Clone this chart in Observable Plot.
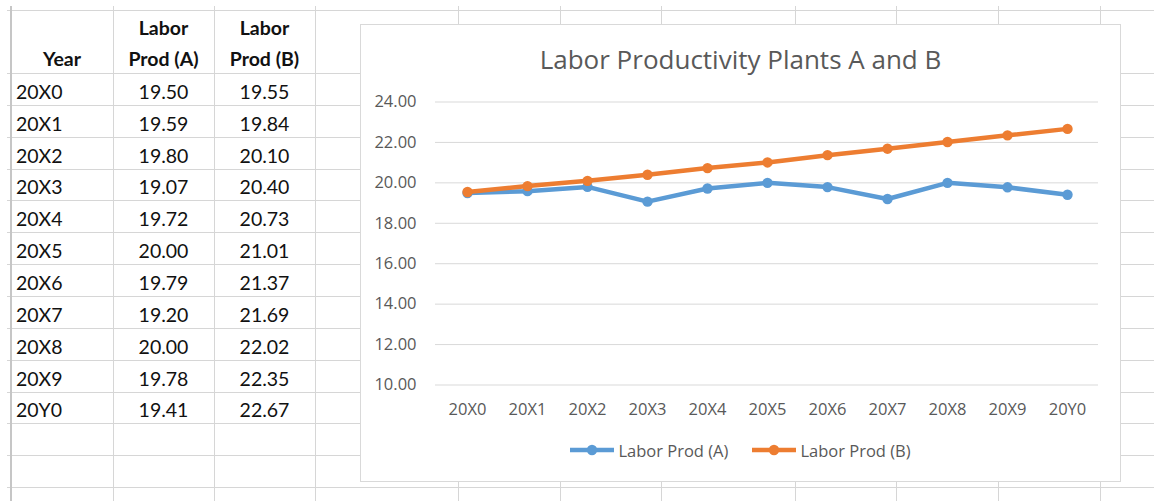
<!DOCTYPE html>
<html>
<head>
<meta charset="utf-8">
<script src="https://cdn.jsdelivr.net/npm/d3@7"></script>
<script src="https://cdn.jsdelivr.net/npm/@observablehq/plot@0.6"></script>
<style>
  html, body { margin: 0; padding: 0; background: #fff; }
  #page { position: relative; width: 1154px; height: 501px; overflow: hidden; background: #fff; }
  #sheet { position: absolute; left: 0; top: 0; }
  #chart { position: absolute; left: 360px; top: 24px; width: 759px; height: 456px;
           border: 1px solid #d9d9d9; background: #fff; }
  #title { position: absolute; left: 0; right: 0; top: 16px; text-align: center;
           font-family: "Open Sans", sans-serif; font-size: 26px; line-height: 36px; color: #595959; }
  #plot { position: absolute; left: 0; top: 0; }
  #legend { position: absolute; left: 0; right: 0; top: 413px; height: 24px; display: flex;
            justify-content: center; align-items: center; gap: 24px; font-family: "Open Sans", sans-serif;
            font-size: 16.5px; color: #595959; }
  .item { display: flex; align-items: center; }
  .item svg { display: block; margin-right: 4px; }
</style>
</head>
<body>
<div id="page">
  <svg id="sheet" width="1154" height="501"></svg>
  <div id="chart">
    <div id="title"></div>
    <div id="plot"></div>
    <div id="legend"></div>
  </div>
</div>
<script>
// ---- data ----
const years = ["20X0","20X1","20X2","20X3","20X4","20X5","20X6","20X7","20X8","20X9","20Y0"];
const prodA = [19.50,19.59,19.80,19.07,19.72,20.00,19.79,19.20,20.00,19.78,19.41];
const prodB = [19.55,19.84,20.10,20.40,20.73,21.01,21.37,21.69,22.02,22.35,22.67];
const seriesNames = ["Labor Prod (A)", "Labor Prod (B)"];
const seriesColors = ["#5B9BD5", "#ED7D31"];
const yTicks = [10, 12, 14, 16, 18, 20, 22, 24];
const chartTitle = "Labor Productivity Plants A and B";
const headerYear = "Year";
const headerA = ["Labor", "Prod (A)"];
const headerB = ["Labor", "Prod (B)"];

// ---- spreadsheet background ----
const sheet = d3.select("#sheet");
const rowH = 31.85, firstRow = 73, nRowLines = 14;
const colLines = [113, 214, 315, 458, 560, 661, 795, 896, 998, 1100];
const gridColor = "#d6d6d6";
sheet.append("line").attr("x1", 7).attr("x2", 1154).attr("y1", 10.5).attr("y2", 10.5)
  .attr("stroke", gridColor);
for (let k = 0; k < nRowLines; k++) {
  const y = Math.round(firstRow + k * rowH) + 0.5;
  sheet.append("line").attr("x1", 7).attr("x2", 1154).attr("y1", y).attr("y2", y).attr("stroke", gridColor);
}
colLines.forEach(x => sheet.append("line").attr("x1", x + 0.5).attr("x2", x + 0.5)
  .attr("y1", 6).attr("y2", 501).attr("stroke", gridColor));
sheet.append("line").attr("x1", 11).attr("x2", 11).attr("y1", 6).attr("y2", 501)
  .attr("stroke", "#c6c6c6").attr("stroke-width", 2);

// table text
const tFont = '"Lato", sans-serif', tSize = "19.5px";
const colA = 16, colB = 163.5, colC = 264.5;
function txt(x, y, s, anchor, bold) {
  sheet.append("text").attr("x", x).attr("y", y).attr("text-anchor", anchor)
    .attr("font-family", tFont).attr("font-size", tSize).attr("font-weight", bold ? "bold" : "normal")
    .attr("fill", "#111").text(s);
}
txt(62, 65.7, headerYear, "middle", true);
txt(colB, 35, headerA[0], "middle", true);
txt(colB, 65.7, headerA[1], "middle", true);
txt(colC, 35, headerB[0], "middle", true);
txt(colC, 65.7, headerB[1], "middle", true);
const fmt = d3.format(".2f");
years.forEach((yr, i) => {
  const base = firstRow + (i + 1) * rowH - 6;
  txt(colA, base, yr, "start", false);
  txt(colB, base, fmt(prodA[i]), "middle", false);
  txt(colC, base, fmt(prodB[i]), "middle", false);
});

// ---- chart ----
document.getElementById("title").textContent = chartTitle;
const rowsA = years.map((y, i) => ({year: y, value: prodA[i], series: seriesNames[0]}));
const rowsB = years.map((y, i) => ({year: y, value: prodB[i], series: seriesNames[1]}));

const plot = Plot.plot({
  width: 759, height: 410,
  marginLeft: 74, marginRight: 22, marginTop: 76.5, marginBottom: 50.5,
  style: {fontFamily: '"Open Sans", sans-serif', fontSize: "16.5px", color: "#595959", background: "transparent", overflow: "visible"},
  x: {type: "point", domain: years, padding: 0.5, label: null},
  y: {domain: [10, 24], label: null},
  color: {domain: seriesNames, range: seriesColors},
  marks: [
    Plot.gridY({ticks: yTicks, stroke: "#d9d9d9", strokeOpacity: 1, strokeWidth: 1}),
    Plot.axisY({ticks: yTicks, tickSize: 0, tickPadding: 19, tickFormat: fmt}),
    Plot.axisX({tickSize: 0, tickPadding: 18}),
    Plot.line(rowsA, {x: "year", y: "value", stroke: "series", strokeWidth: 4.5, strokeLinejoin: "round"}),
    Plot.dot(rowsA, {x: "year", y: "value", fill: "series", r: 5.2}),
    Plot.line(rowsB, {x: "year", y: "value", stroke: "series", strokeWidth: 4.5, strokeLinejoin: "round"}),
    Plot.dot(rowsB, {x: "year", y: "value", fill: "series", r: 5.2})
  ]
});
document.getElementById("plot").appendChild(plot);

// legend
const colorScale = plot.scale("color");
const legend = d3.select("#legend");
seriesNames.forEach(name => {
  const c = colorScale.apply(name);
  const item = legend.append("div").attr("class", "item");
  const sw = item.append("svg").attr("width", 44).attr("height", 14);
  sw.append("line").attr("x1", 0).attr("x2", 44).attr("y1", 7).attr("y2", 7)
    .attr("stroke", c).attr("stroke-width", 4.5);
  sw.append("circle").attr("cx", 22).attr("cy", 7).attr("r", 5.2).attr("fill", c);
  item.append("span").text(name);
});
</script>
</body>
</html>
